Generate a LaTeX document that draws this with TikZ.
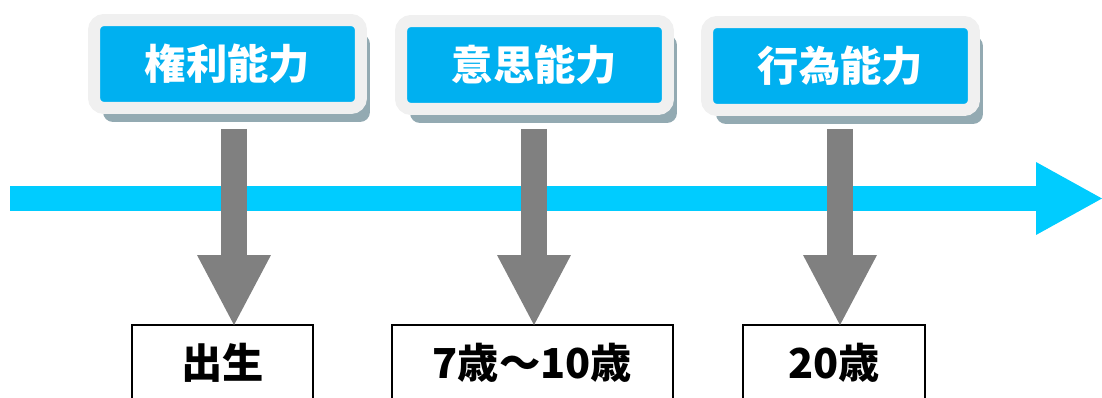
\documentclass[tikz,border=0pt]{standalone}
\usepackage{fontspec}
\newfontfamily\jpfont{Noto Sans CJK JP}
\usetikzlibrary{arrows.meta,shadows,positioning}

\definecolor{capblue}{HTML}{00B0F0}
\definecolor{caprim}{HTML}{F0F0F0}
\definecolor{capshadow}{HTML}{93AAB2}
\definecolor{axiscyan}{HTML}{00CCFF}
\definecolor{arrowgray}{HTML}{808080}

\tikzset{
  capbox/.style={draw=caprim, line width=0.24cm, fill=capblue,
    rounded corners=0.2cm, minimum width=5.34cm, minimum height=1.76cm,
    inner sep=0pt, text=white, font=\jpfont\bfseries\fontsize{23.5}{28}\selectfont,
    drop shadow={shadow xshift=0.18cm, shadow yshift=-0.28cm,
      fill=capshadow, opacity=1}},
  agebox/.style={draw=black, line width=0.04cm, fill=white,
    minimum height=1.52cm, inner sep=0pt, outer sep=0pt,
    font=\jpfont\bfseries\fontsize{23.5}{28}\selectfont},
  timeline/.style={draw=axiscyan, line width=0.5cm,
    -{Triangle[length=1.32cm, width=1.46cm, line width=0pt]}},
  downarrow/.style={draw=arrowgray, line width=0.52cm,
    -{Triangle[length=1.4cm, width=1.48cm, line width=0pt]}}
}

\begin{document}
\begin{tikzpicture}[x=0.02cm, y=-0.02cm]
  \useasboundingbox (0,0) rectangle (1102,398);
  \clip (0,0) rectangle (1102,398);

  % time axis
  \coordinate (t0) at (10,198.5);
  \coordinate (t1) at (1102,198.5);
  \draw[timeline] (t0) -- (t1);

  % capacities
  \node[capbox] (cap1) at (227.5,64) {権利能力};
  \node[capbox] (cap2) at (534.5,65) {意思能力};
  \node[capbox] (cap3) at (840.5,66) {行為能力};

  % ages
  \node[agebox, minimum width=3.62cm] (age1) at (222.5,363) {出生};
  \node[agebox, minimum width=5.62cm] (age2) at (532.5,363) {7歳〜10歳};
  \node[agebox, minimum width=3.64cm] (age3) at (834,363) {20歳};

  % arrows from capacity to age
  \foreach \n/\x in {1/234,2/534,3/840} {
    \coordinate (a\n) at (\x,129);
    \draw[downarrow] (a\n) -- (a\n |- age\n.north);
  }
\end{tikzpicture}
\end{document}
